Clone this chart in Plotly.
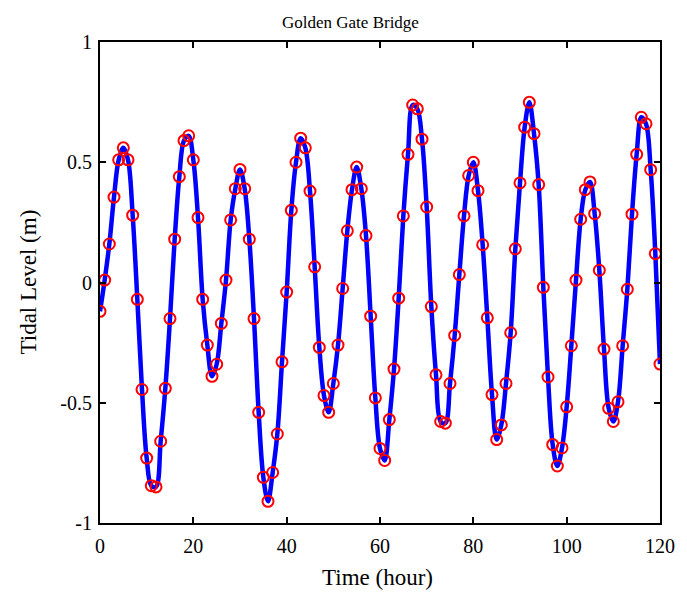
import plotly.graph_objects as go

hours = list(range(0, 121))
tide = [
    -0.12, 0.01, 0.16, 0.355, 0.51, 0.56, 0.51, 0.28, -0.07, -0.445,
    -0.73, -0.845, -0.85, -0.66, -0.44, -0.15, 0.18, 0.44, 0.59, 0.61,
    0.51, 0.27, -0.07, -0.26, -0.39, -0.34, -0.17, 0.01, 0.26, 0.39,
    0.47, 0.39, 0.18, -0.15, -0.54, -0.81, -0.91, -0.79, -0.63, -0.33,
    -0.04, 0.30, 0.50, 0.60, 0.56, 0.38, 0.065, -0.27, -0.47, -0.54,
    -0.42, -0.26, -0.025, 0.215, 0.386, 0.48, 0.39, 0.195, -0.14, -0.48,
    -0.69, -0.74, -0.57, -0.36, -0.065, 0.277, 0.533, 0.738, 0.722, 0.596,
    0.314, -0.10, -0.384, -0.578, -0.585, -0.42, -0.22, 0.033, 0.277, 0.445,
    0.50, 0.382, 0.157, -0.147, -0.466, -0.653, -0.592, -0.42, -0.209, 0.14,
    0.414, 0.646, 0.749, 0.619, 0.407, -0.02, -0.393, -0.674, -0.763, -0.688,
    -0.517, -0.263, 0.01, 0.263, 0.386, 0.418, 0.286, 0.051, -0.277, -0.523,
    -0.578, -0.496, -0.263, -0.028, 0.284, 0.533, 0.687, 0.66, 0.469, 0.12,
    -0.339,
]

x_ticks = [0, 20, 40, 60, 80, 100, 120]
x_labels = ["0", "20", "40", "60", "80", "100", "120"]
y_ticks = [-1, -0.5, 0, 0.5, 1]
y_labels = ["-1", "-0.5", "0", "0.5", "1"]

font_family = "Liberation Serif, Times New Roman, serif"

fig = go.Figure()
fig.add_trace(go.Scatter(
    x=hours, y=tide, mode="lines",
    line=dict(color="#0000ff", width=4.5, shape="spline", smoothing=1.0),
    showlegend=False, hoverinfo="skip",
))
fig.add_trace(go.Scatter(
    x=hours, y=tide, mode="markers",
    marker=dict(symbol="circle-open", size=11, color="#ff0000", line=dict(width=2, color="#ff0000")),
    showlegend=False,
))

axis_common = dict(
    showline=True, linecolor="black", linewidth=2, mirror="ticks",
    ticks="inside", ticklen=6, tickwidth=2, tickcolor="black",
    showgrid=False, zeroline=False, automargin=False,
    tickfont=dict(family=font_family, size=20, color="black"),
)

fig.update_layout(
    width=687, height=596,
    margin=dict(l=100, r=27, t=42, b=73),
    paper_bgcolor="white", plot_bgcolor="white",
    xaxis=dict(range=[0, 120], tickvals=x_ticks, ticktext=x_labels,
               ticklabelstandoff=4, **axis_common),
    yaxis=dict(range=[-1, 1], tickvals=y_ticks, ticktext=y_labels,
               ticklabelstandoff=2, **axis_common),
    annotations=[
        dict(text="Golden Gate Bridge", xref="paper", yref="paper",
             x=0.4475, y=1.0, xanchor="center", yanchor="bottom", yshift=8,
             showarrow=False, font=dict(family=font_family, size=17, color="black")),
        dict(text="Time (hour)", xref="paper", yref="paper",
             x=0.496, y=0.0, xanchor="center", yanchor="middle", yshift=-54,
             showarrow=False, font=dict(family=font_family, size=23, color="black")),
        dict(text="Tidal Level (m)", xref="paper", yref="paper",
             x=0.0, y=0.5, xanchor="center", yanchor="middle", xshift=-72,
             textangle=-90,
             showarrow=False, font=dict(family=font_family, size=23, color="black")),
    ],
)

fig.write_html("out.html")
